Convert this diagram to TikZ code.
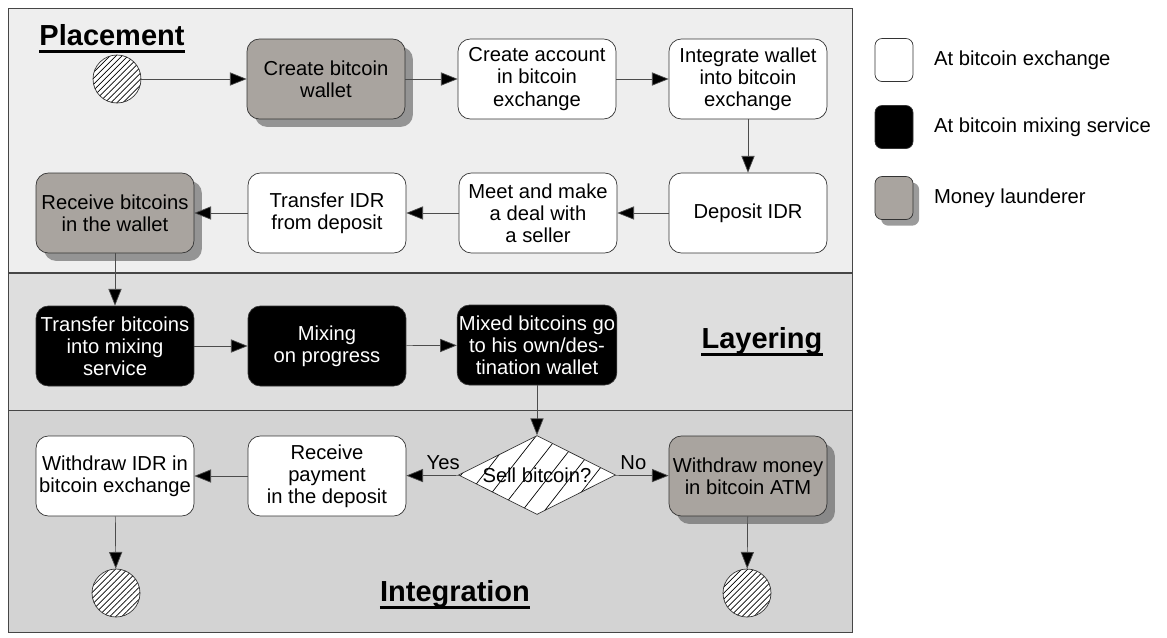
\documentclass[tikz,border=0pt]{standalone}
\usepackage{fontspec}
\setmainfont{Liberation Sans}
\usetikzlibrary{
    positioning,      % Relative positioning
    shapes.geometric, % Decision diamond
    arrows.meta,      % Modern arrow tips
    patterns,         % Hatching
    patterns.meta,    % Hatching with own spacing
    shadows           % Drop shadows
}

\definecolor{launder}{RGB}{169,164,159}
\definecolor{placebg}{RGB}{238,238,238}
\definecolor{layerbg}{RGB}{222,222,222}
\definecolor{integbg}{RGB}{211,211,211}
\definecolor{framegray}{RGB}{70,70,70}

\tikzset{
    act/.style={rectangle, rounded corners=7pt, draw=black!80, thin,
        minimum width=3.16cm, minimum height=1.6cm, align=center,
        inner sep=1pt, font=\fontsize{11.5}{12.6}\selectfont},
    exch/.style={act, fill=white},
    mix/.style={act, fill=black, text=white},
    laund/.style={act, fill=launder,
        drop shadow={shadow xshift=4.5pt, shadow yshift=-4.5pt, fill=black!65, opacity=0.6}},
    term/.style={circle, draw=black!80, minimum size=0.96cm, inner sep=0pt,
        preaction={fill=white}, pattern={Lines[angle=45,distance=2.4pt,line width=0.4pt]}},
    decide/.style={diamond, draw=black!80, minimum width=3.14cm, minimum height=1.58cm,
        inner sep=0pt, preaction={fill=white},
        pattern={Lines[angle=52,distance=10pt,line width=0.4pt]}},
    flow/.style={draw=black!70, -{Triangle[length=9.5pt,width=7.5pt,fill=black]}},
    phase/.style={inner sep=0pt, font=\fontsize{16.5}{18}\selectfont\bfseries},
    tag/.style={inner sep=1pt, font=\fontsize{11.5}{12.6}\selectfont},
    key/.style={rectangle, rounded corners=4pt, draw=black!80, thin,
        minimum width=0.76cm, minimum height=0.86cm},
}

\begin{document}
\begin{tikzpicture}[x=0.02cm, y=-0.02cm]
    \useasboundingbox (0,0) rectangle (1167,637);
    % swim lanes
    \fill[placebg] (8,8) rectangle (852,273);
    \fill[layerbg] (8,273) rectangle (852,410);
    \fill[integbg] (8,410) rectangle (852,632);
    \draw[framegray] (8,8) rectangle (852,632);
    \draw[framegray, thick] (8,273) -- (852,273);
    \draw[framegray] (8,410) -- (852,410);

    % phase titles
    \node[phase] (place) at (112,35) {Placement};
    \node[phase] (layer) at (762,341) {Layering};
    \node[phase] (integ) at (455,594) {Integration};
    \foreach \p in {place,layer,integ}
        \draw[line width=1.5pt] ([yshift=-3.5pt]\p.base west) -- ([yshift=-3.5pt]\p.base east);

    % placement
    \node[term] (start) at (117,79) {};
    \node[laund] (wallet) at (326,79) {Create bitcoin\\wallet};
    \node[exch] (account) at (537,79) {Create account\\in bitcoin\\exchange};
    \node[exch] (intwal) at (748,79) {Integrate wallet\\into bitcoin\\exchange};
    \node[exch] (deposit) at (748,213) {Deposit IDR};
    \node[exch] (deal) at (538,213) {Meet and make\\a deal with\\a seller};
    \node[exch] (tridr) at (327,213) {Transfer IDR\\from deposit};
    \node[laund] (recv) at (115,213) {Receive bitcoins\\in the wallet};

    % layering
    \node[mix] (trbtc) at (115,346) {Transfer bitcoins\\into mixing\\service};
    \node[mix] (mixing) at (327,346) {Mixing\\on progress};
    \node[mix] (mixed) at (537,345) {Mixed bitcoins go\\to his own/des-\\tination wallet};

    % integration
    \node[decide, label={[tag]center:Sell bitcoin?}] (sell) at (537,475) {};
    \node[laund] (atm) at (748,476) {Withdraw money\\in bitcoin ATM};
    \node[exch] (pay) at (327,476) {Receive\\payment\\in the deposit};
    \node[exch] (wdidr) at (115,476) {Withdraw IDR in\\bitcoin exchange};
    \node[term] (endl) at (116,593) {};
    \node[term] (endr) at (747,593) {};

    % flow
    \draw[flow] (start) -- (wallet);
    \draw[flow] (wallet) -- (account);
    \draw[flow] (account) -- (intwal);
    \draw[flow] (intwal) -- (deposit);
    \draw[flow] (deposit) -- (deal);
    \draw[flow] (deal) -- (tridr);
    \draw[flow] (tridr) -- (recv);
    \draw[flow] (recv) -- (trbtc);
    \draw[flow] (trbtc) -- (mixing);
    \draw[flow] (mixing) -- (mixed);
    \draw[flow] (mixed) -- (sell);
    \draw[flow] (sell) -- node[tag, pos=0.3, above=2pt] {Yes} (pay);
    \draw[flow] (sell) -- node[tag, pos=0.34, above=2pt] {No} (atm);
    \draw[flow] (pay) -- (wdidr);
    \draw[flow] (wdidr) -- (endl);
    \draw[flow] (atm) -- (endr);

    % legend
    \node[key, fill=white] (kexch) at (894,60) {};
    \node[key, fill=black] (kmix) at (894,127) {};
    \node[key, fill=launder, drop shadow={shadow xshift=3.5pt, shadow yshift=-3.5pt, fill=black!65, opacity=0.6}] (klaund) at (894,198) {};
    \node[tag, anchor=west] at (932,60) {At bitcoin exchange};
    \node[tag, anchor=west] at (932,127) {At bitcoin mixing service};
    \node[tag, anchor=west] at (932,198) {Money launderer};
\end{tikzpicture}
\end{document}
